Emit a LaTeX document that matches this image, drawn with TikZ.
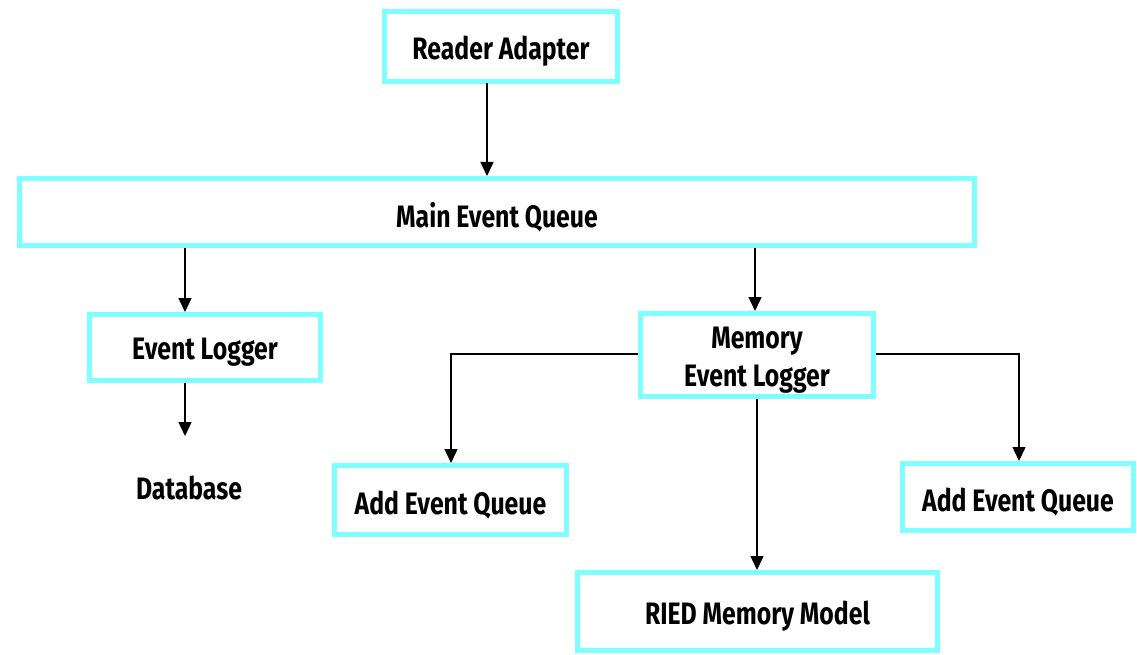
\documentclass[tikz,border=0pt]{standalone}
\usepackage{fontspec}
\setmainfont{Fira Sans}[FakeStretch=0.8]
\usetikzlibrary{arrows.meta}
\definecolor{boxc}{RGB}{128,255,255}
\newcommand{\lowr}[1]{\raisebox{-5pt}[\height][\depth]{#1}}
\begin{document}
\begin{tikzpicture}[x=1pt,y=-1pt,
  lbl/.style={font=\fontsize{31}{38}\selectfont\bfseries,align=center},
  box/.style={lbl,draw=boxc,line width=5pt,fill=white,inner sep=0pt},
  conn/.style={line width=1.5pt,-{Triangle[length=14pt,width=13pt]}}]
\useasboundingbox (0,0) rectangle (1137,655);
\node[box,minimum width=233pt,minimum height=70pt] (ra) at (501,46.5) {\lowr{Reader Adapter}};
\node[box,minimum width=955pt,minimum height=67pt] (meq) at (497,212) {\lowr{Main Event Queue}};
\node[box,minimum width=231pt,minimum height=66pt] (el) at (205,347.5) {\lowr{Event Logger}};
\node[lbl] (db) at (189,488) {Database};
\node[box,minimum width=233pt,minimum height=83pt] (mel) at (757,355) {\lowr{Memory}\\\lowr{Event Logger}};
\node[box,minimum width=232pt,minimum height=69pt] (aeq1) at (450.5,500) {\lowr{Add Event Queue}};
\node[box,minimum width=231pt,minimum height=67pt] (aeq2) at (1018,497) {\lowr{Add Event Queue}};
\node[box,minimum width=360pt,minimum height=78pt] (ried) at (757.5,611.5) {\lowr{RIED Memory Model}};
\coordinate (dbtop) at (185,436);
\draw[conn] (487,83) -- (487,176);
\draw[conn] (185,248) -- (185,312);
\draw[conn] (755,248) -- (755,311);
\draw[conn] (185,383) -- (dbtop);
\draw[conn] (mel.west |- 0,354) -| (aeq1.north -| 451,0);
\draw[conn] (mel.east |- 0,354) -| (aeq2.north -| 1019,0);
\draw[conn] (757,399) -- (ried.north -| 757,0);
\end{tikzpicture}
\end{document}
